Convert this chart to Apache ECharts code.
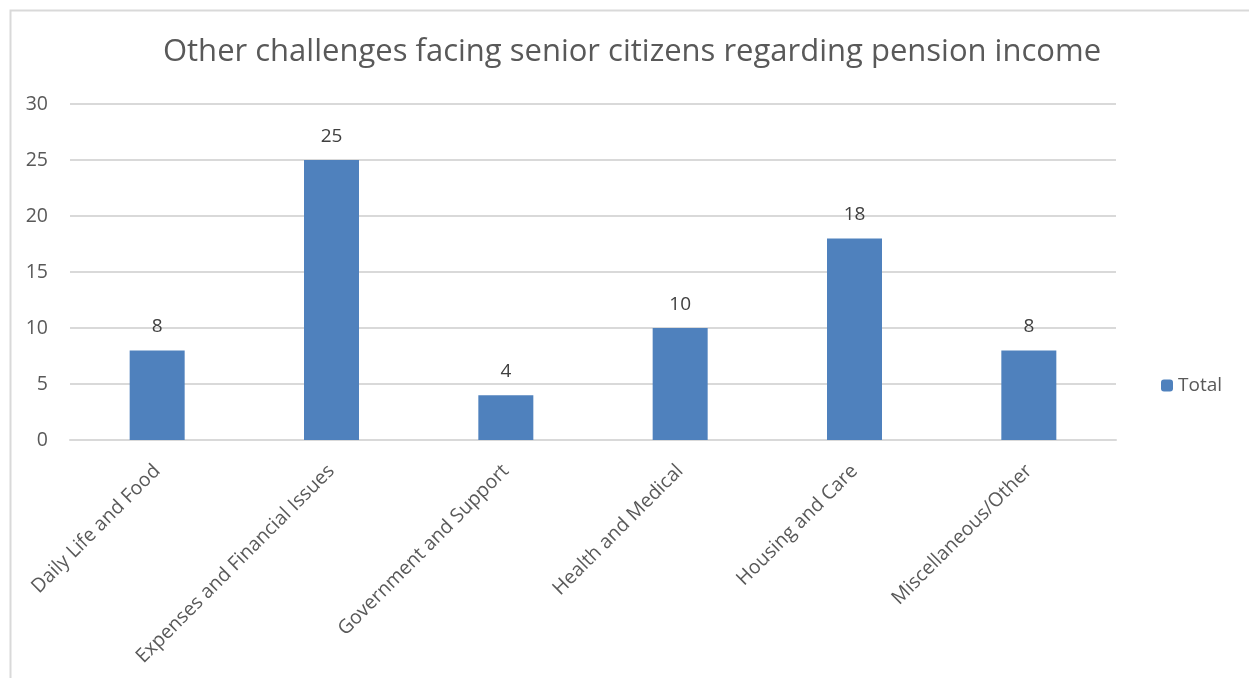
<!DOCTYPE html>
<html>
<head>
<meta charset="utf-8">
<style>
  html, body { margin: 0; padding: 0; background: #ffffff; }
  #chart { width: 1249px; height: 678px; }
</style>
<script src="https://cdn.jsdelivr.net/npm/echarts@6/dist/echarts.min.js"></script>
</head>
<body>
<div id="chart"></div>
<script>
// Challenge categories and their counts
const categories = [
  'Daily Life and Food',
  'Expenses and Financial Issues',
  'Government and Support',
  'Health and Medical',
  'Housing and Care',
  'Miscellaneous/Other'
];
const totals = [8, 25, 4, 10, 18, 8];
const yTicks = { min: 0, max: 30, interval: 5 };

const FONT = '"Open Sans", "Noto Sans", sans-serif';
const TEXT = '#595959';
const GRID = '#d9d9d9';

const chart = echarts.init(document.getElementById('chart'), null, { renderer: 'canvas' });

chart.setOption({
  animation: false,
  backgroundColor: '#ffffff',
  textStyle: { fontFamily: FONT },
  graphic: [{
    type: 'rect',
    left: 8, top: 8,
    shape: { width: 1300, height: 720 },
    style: { fill: 'none', stroke: GRID, lineWidth: 2 },
    silent: true
  }],
  title: {
    text: 'Other challenges facing senior citizens regarding pension income',
    left: 627, top: 32,
    textAlign: 'center',
    textStyle: { fontFamily: FONT, fontSize: 31, fontWeight: 'normal', color: TEXT }
  },
  legend: {
    data: ['Total'],
    left: 1156, top: 371,
    itemWidth: 12, itemHeight: 12, itemGap: 6,
    textStyle: { fontFamily: FONT, fontSize: 19, color: TEXT }
  },
  grid: { left: 70, right: 133, top: 104, bottom: 238, containLabel: false },
  xAxis: {
    type: 'category',
    data: categories,
    axisLine: { show: true, lineStyle: { color: GRID, width: 2 } },
    axisTick: { show: false },
    axisLabel: {
      rotate: 45, interval: 0, margin: 28,
      fontFamily: FONT, fontSize: 19.5, color: TEXT
    }
  },
  yAxis: {
    type: 'value',
    min: yTicks.min, max: yTicks.max, interval: yTicks.interval,
    axisLine: { show: false },
    axisTick: { show: false },
    splitLine: { lineStyle: { color: GRID, width: 2 } },
    axisLabel: { margin: 22, fontFamily: FONT, fontSize: 19.5, color: TEXT }
  },
  series: [{
    name: 'Total',
    type: 'bar',
    data: totals,
    barWidth: 55,
    itemStyle: { color: '#4f81bd' },
    label: {
      show: true, position: 'top', distance: 14,
      fontFamily: FONT, fontSize: 19, color: '#404040'
    }
  }]
});
</script>
</body>
</html>
